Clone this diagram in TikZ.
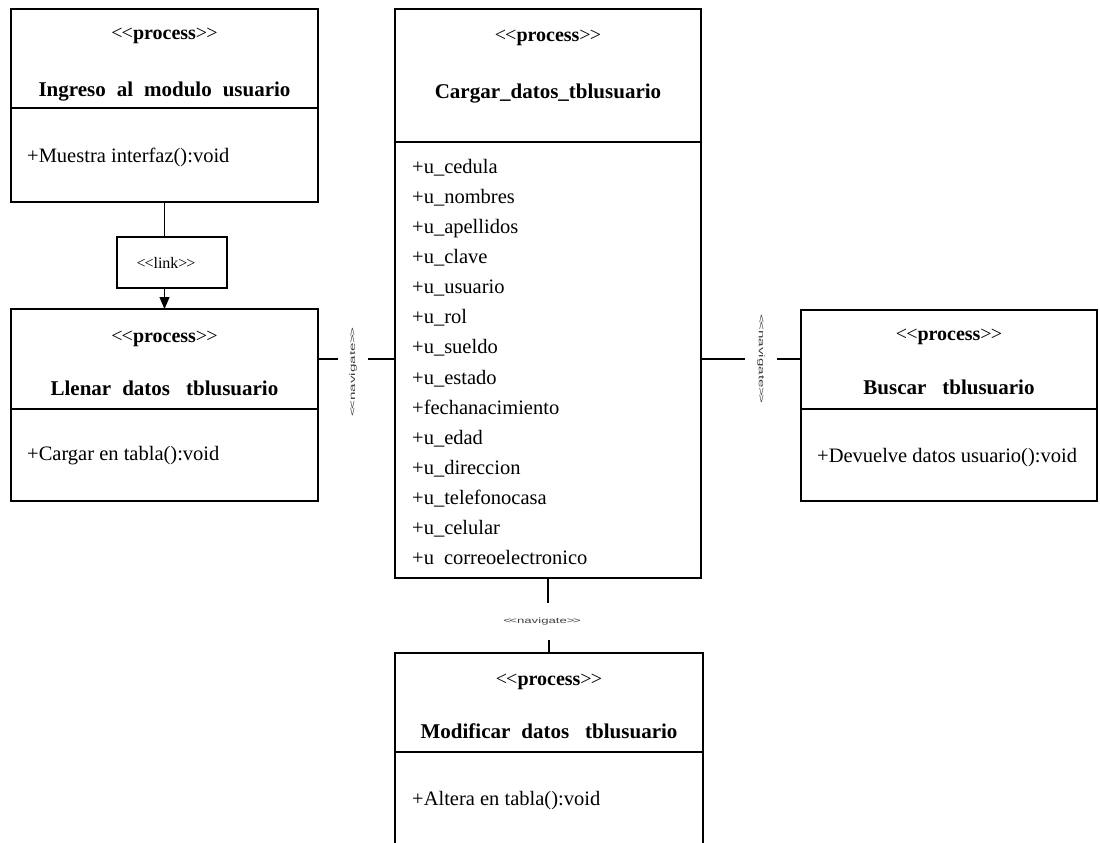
\documentclass[tikz,border=0pt]{standalone}
\usepackage{fontspec}
\setmainfont{Liberation Serif}
\newfontfamily\navfont{Liberation Sans}
\usetikzlibrary{arrows.meta}
\newcommand\myLL{<\kern-1pt<}
\newcommand\myRR{>\kern-1pt>}
\newcommand\wg{\hspace{11pt}}
\newcommand\wgg{\hspace{16pt}}
\begin{document}
\begin{tikzpicture}[x=1pt,y=-1pt,
  box/.style={draw, line width=1.3pt, rectangle, anchor=north west, inner sep=0pt, outer sep=0pt},
  stereo/.style={anchor=base, font=\fontsize{20}{24}\selectfont, inner sep=0pt},
  cname/.style={anchor=base, font=\fontsize{21}{25}\selectfont\bfseries, inner sep=0pt},
  member/.style={anchor=base west, font=\fontsize{20.5}{24}\selectfont, inner sep=0pt},
  conn/.style={line width=1.3pt},
  navlbl/.style={font=\navfont\fontsize{8}{9}\selectfont, text=black!75, inner sep=0pt, outer sep=0pt},
]
\clip (0,0) rectangle (1100,843);

% ---- Ingreso
\node[box, minimum width=307, minimum height=193] (ingreso) at (11,9) {};
\draw[conn] (ingreso.west |- 0,108) -- (ingreso.east |- 0,108);
\node[stereo] (ingresoS) at (ingreso.center |- 0,40) {\myLL\textbf{process}\myRR};
\node[cname] (ingresoN) at (ingreso.center |- 0,96) {Ingreso\wg al\wg modulo\wg usuario};
\node[member] (ingresoM) at (27,162) {+Muestra interfaz():void};

% ---- Cargar
\node[box, minimum width=306, minimum height=569] (cargar) at (395,9) {};
\draw[conn] (cargar.west |- 0,142) -- (cargar.east |- 0,142);
\node[stereo] (cargarS) at (cargar.center |- 0,42) {\myLL\textbf{process}\myRR};
\node[cname] (cargarN) at (cargar.center |- 0,98) {Cargar\_datos\_tblusuario};
\foreach \t [count=\i from 0] in {+u\_cedula,+u\_nombres,+u\_apellidos,+u\_clave,+u\_usuario,+u\_rol,+u\_sueldo,+u\_estado,+fechanacimiento,+u\_edad,+u\_direccion,+u\_telefonocasa,+u\_celular,+u\hspace{10pt}correoelectronico}
  \node[member] (attr\i) at (412,173+30.15*\i) {\t};

% ---- Llenar
\node[box, minimum width=307, minimum height=192] (llenar) at (11,309) {};
\draw[conn] (llenar.west |- 0,409) -- (llenar.east |- 0,409);
\node[stereo] (llenarS) at (llenar.center |- 0,342) {\myLL\textbf{process}\myRR};
\node[cname] (llenarN) at (llenar.center |- 0,395) {Llenar\wg datos\wgg tblusuario};
\node[member] (llenarM) at (27,460) {+Cargar en tabla():void};

% ---- Buscar
\node[box, minimum width=296, minimum height=191] (buscar) at (801,310) {};
\draw[conn] (buscar.west |- 0,409) -- (buscar.east |- 0,409);
\node[stereo] (buscarS) at (buscar.center |- 0,340) {\myLL\textbf{process}\myRR};
\node[cname] (buscarN) at (buscar.center |- 0,394) {Buscar\wgg tblusuario};
\node[member] (buscarM) at (817,462) {+Devuelve datos usuario():void};

% ---- Modificar
\node[box, minimum width=308, minimum height=230] (modif) at (395,653) {};
\draw[conn] (modif.west |- 0,752) -- (modif.east |- 0,752);
\node[stereo] (modifS) at (modif.center |- 0,685) {\myLL\textbf{process}\myRR};
\node[cname] (modifN) at (modif.center |- 0,738) {Modificar\wg datos\wgg tblusuario};
\node[member] (modifM) at (412,805) {+Altera en tabla():void};

% ---- link
\node[draw, line width=1.3pt, minimum width=110, minimum height=51, inner sep=0pt, outer sep=0pt,
      font=\fontsize{16}{18}\selectfont] (link) at (172,262.5) {\myLL link\myRR\hspace*{12pt}};
\draw[conn] (ingreso.south) -- (ingreso.south |- link.north);
\draw[conn, -{Triangle[length=12pt,width=10pt]}] (ingreso.south |- link.south) -- (llenar.north);

% ---- navigate connectors
\coordinate (yL) at (0,359);
\node[navlbl, minimum width=30] (navL) at (353,372) {\rotatebox{90}{\scalebox{1.9}[1]{\myLL navigate\myRR}}};
\draw[conn] (llenar.east |- yL) -- (navL.west |- yL);
\draw[conn] (navL.east |- yL) -- (cargar.west |- yL);

\node[navlbl, minimum width=32] (navR) at (761,359) {\rotatebox{-90}{\scalebox{1.9}[1]{\myLL navigate\myRR}}};
\draw[conn] (cargar.east |- navR) -- (navR.west);
\draw[conn] (navR.east) -- (buscar.west |- navR);

\node[navlbl, minimum height=37] (navB) at (542,621) {\scalebox{1.65}[1]{\myLL navigate\myRR}};
\draw[conn] (cargar.south) -- (cargar.south |- navB.north);
\draw[conn] (modif.north |- navB.south) -- (modif.north);
\end{tikzpicture}
\end{document}
